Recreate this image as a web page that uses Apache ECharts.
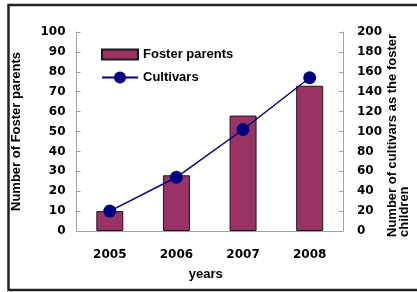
<!DOCTYPE html>
<html lang="en">
<head>
    <meta charset="UTF-8">
    <title>Foster parents and cultivars</title>
    <script src="https://cdn.jsdelivr.net/npm/echarts@6/dist/echarts.min.js"></script>
    <style>
        html, body { margin: 0; padding: 0; background: #fff; }
    </style>
</head>
<body>
   <div id="main" style="width: 417px;height:292px;"></div>
   <script type="text/javascript">
       // data
       var years = ['2005', '2006', '2007', '2008'];
       var fosterParents = [10, 28, 58, 73];
       var cultivars = [20, 54, 102, 154];

       var labelFont = {color: '#000', fontWeight: 'bold', fontFamily: 'DejaVu Sans', fontSize: 12};
       var nameFont = {color: '#000', fontWeight: 'bold', fontFamily: 'Liberation Sans', fontSize: 13};
       var axisGray = '#a0a0a0';

       var myChart = echarts.init(document.getElementById('main'));

       var option = {
           animation: false,
           grid: {left: 76.5, right: 74, top: 32, bottom: 61},
           legend: [
               {
                   left: 96, top: 43, orient: 'vertical',
                   itemWidth: 36, itemHeight: 10, itemGap: 5,
                   textStyle: nameFont,
                   data: [{name: 'Foster parents', icon: 'rect'}]
               },
               {
                   left: 96, top: 66, orient: 'vertical',
                   itemWidth: 36, itemHeight: 15, itemGap: 5,
                   textStyle: nameFont,
                   data: ['Cultivars']
               }
           ],
           xAxis: {
               type: 'category',
               data: years,
               name: 'years',
               nameLocation: 'middle',
               nameGap: 37,
               nameTextStyle: Object.assign({padding: [0, 8, 0, 0]}, nameFont),
               axisLine: {lineStyle: {color: axisGray}},
               axisTick: {inside: true, length: 4, lineStyle: {color: axisGray}},
               axisLabel: Object.assign({margin: 18}, labelFont)
           },
           yAxis: [
               {
                   type: 'value',
                   min: 0, max: 100, interval: 10,
                   name: 'Number of Foster parents',
                   nameLocation: 'middle',
                   nameGap: 54,
                   nameTextStyle: nameFont,
                   axisLine: {show: true, lineStyle: {color: axisGray}},
                   axisTick: {show: true, inside: true, length: 4, lineStyle: {color: axisGray}},
                   splitLine: {show: false},
                   axisLabel: Object.assign({margin: 11}, labelFont)
               },
               {
                   type: 'value',
                   position: 'right',
                   min: 0, max: 200, interval: 20,
                   axisLine: {show: true, lineStyle: {color: axisGray}},
                   axisTick: {show: true, inside: true, length: 4, lineStyle: {color: axisGray}},
                   splitLine: {show: false},
                   axisLabel: Object.assign({margin: 14}, labelFont)
               }
           ],
           graphic: [
               {
                   type: 'rect',
                   silent: true,
                   shape: {x: 8.5, y: 5, width: 430, height: 285},
                   style: {fill: 'none', stroke: '#222', lineWidth: 2.5}
               },
               {
                   type: 'text',
                   silent: true,
                   x: 386, y: 237,
                   rotation: Math.PI / 2,
                   style: {
                       text: 'Number of cultivars as the foster\nchildren',
                       fill: '#000',
                       font: 'bold 13px "Liberation Sans"',
                       align: 'left',
                       verticalAlign: 'top',
                       lineHeight: 12
                   }
               }
           ],
           series: [
               {
                   name: 'Foster parents',
                   type: 'bar',
                   yAxisIndex: 0,
                   barWidth: 27,
                   itemStyle: {color: '#993366', borderColor: '#1a1a1a', borderWidth: 1},
                   data: fosterParents
               },
               {
                   name: 'Cultivars',
                   type: 'line',
                   yAxisIndex: 1,
                   symbol: 'circle',
                   symbolSize: 13,
                   lineStyle: {color: '#000080', width: 1.5},
                   itemStyle: {color: '#000080'},
                   data: cultivars
               }
           ]
       };

       myChart.setOption(option);
   </script>
</body>
</html>
